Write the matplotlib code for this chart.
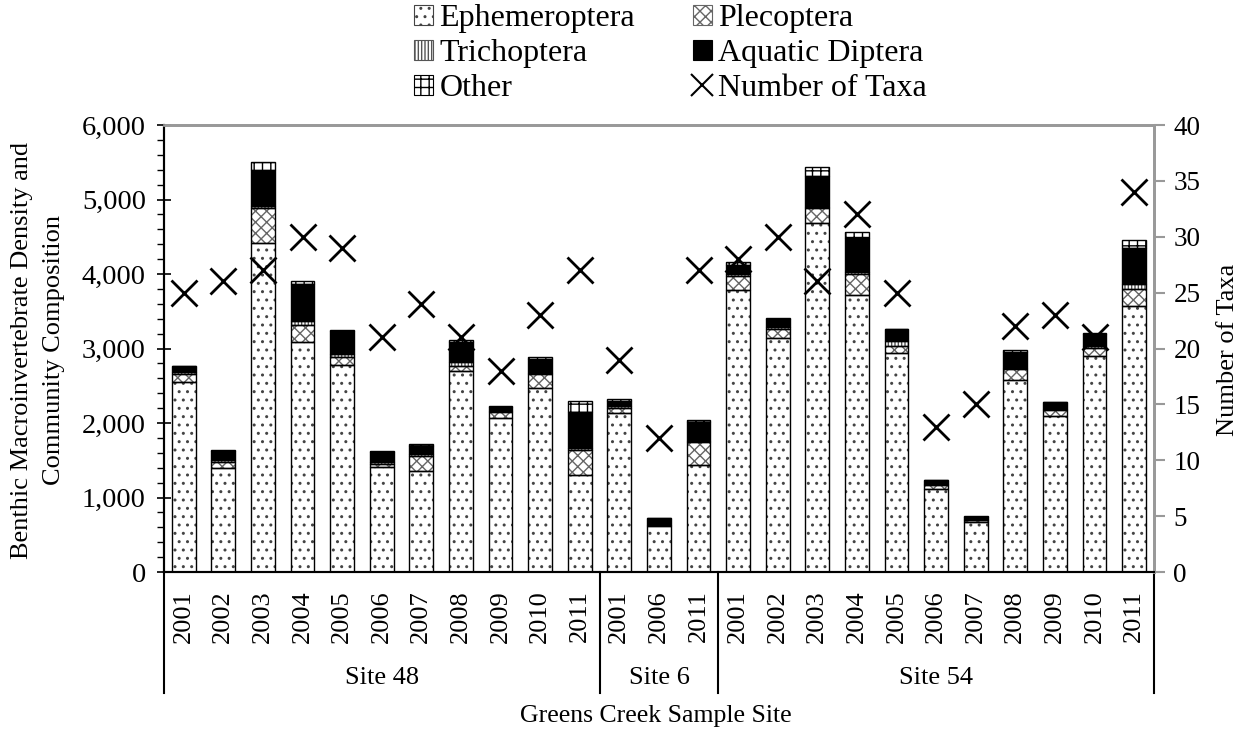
import matplotlib
matplotlib.use("Agg")
import matplotlib.pyplot as plt
import matplotlib.patches as mpatches
from matplotlib.lines import Line2D
from matplotlib.ticker import MultipleLocator, FuncFormatter
import numpy as np

plt.rcParams['font.family'] = ['Liberation Serif', 'DejaVu Serif']
plt.rcParams['hatch.linewidth'] = 1.0

# data
years = ['2001', '2002', '2003', '2004', '2005', '2006', '2007', '2008', '2009', '2010', '2011',
         '2001', '2006', '2011',
         '2001', '2002', '2003', '2004', '2005', '2006', '2007', '2008', '2009', '2010', '2011']
sites = ['Site 48', 'Site 6', 'Site 54']
site_sizes = [11, 3, 11]

ephemeroptera = [2550, 1395, 4410, 3085, 2785, 1415, 1360, 2695, 2065, 2470, 1305,
                 2135, 615, 1440,
                 3785, 3145, 4680, 3720, 2940, 1110, 665, 2575, 2090, 2905, 3570]
plecoptera = [110, 85, 470, 230, 105, 40, 200, 75, 85, 190, 335,
              65, 15, 300,
              190, 120, 200, 280, 100, 60, 40, 150, 85, 105, 225]
trichoptera = [20, 20, 30, 50, 40, 25, 20, 50, 15, 15, 25,
               25, 5, 20,
               25, 20, 20, 30, 60, 15, 10, 15, 15, 20, 65]
diptera = [80, 120, 490, 495, 310, 135, 115, 265, 55, 190, 480,
           75, 85, 260,
           120, 105, 420, 460, 160, 50, 30, 215, 90, 170, 495]
other = [10, 20, 110, 45, 5, 5, 20, 25, 5, 25, 155,
         25, 5, 25,
         35, 25, 110, 80, 5, 5, 5, 20, 5, 10, 100]
num_taxa = [25, 26, 27, 30, 29, 21, 24, 21, 18, 23, 27,
            19, 12, 27,
            28, 30, 26, 32, 25, 13, 15, 22, 23, 21, 34]

groups = [
    ('Ephemeroptera', ephemeroptera, 'white', '#444444', '..'),
    ('Plecoptera', plecoptera, 'white', '#666666', 'xxx'),
    ('Trichoptera', trichoptera, 'white', '#555555', '|||||'),
    ('Aquatic Diptera', diptera, 'black', 'black', None),
    ('Other', other, 'white', 'black', '++'),
]

fig = plt.figure(figsize=(12.46, 7.38), dpi=100)
ax = fig.add_axes([0.1316, 0.2249, 0.7945, 0.6057])
ax2 = ax.twinx()

x = np.arange(len(years))
bottom = np.zeros(len(years))
handles = {}
for name, vals, fc, hc, hatch in groups:
    vals = np.array(vals, dtype=float)
    # hatch layer in grey, then black outline on top
    ax.bar(x, vals, 0.6, bottom=bottom, color=fc, edgecolor=hc, hatch=hatch, linewidth=0, zorder=2)
    ax.bar(x, vals, 0.6, bottom=bottom, fill=False, edgecolor='black', linewidth=1.0, zorder=3)
    handles[name] = mpatches.Patch(facecolor=fc, edgecolor=hc if hatch else 'black',
                                   hatch=hatch, linewidth=0.8)
    bottom += vals

ax2.plot(x, num_taxa, linestyle='none', marker='x', markersize=19, markeredgewidth=2,
         color='black', zorder=5)

ax.set_xlim(-0.5, len(years) - 0.5)
ax.set_ylim(0, 6000)
ax2.set_ylim(0, 40)

ax.yaxis.set_major_locator(MultipleLocator(1000))
ax.yaxis.set_minor_locator(MultipleLocator(200))
ax.yaxis.set_major_formatter(FuncFormatter(lambda v, p: f'{int(v):,}'))
ax.tick_params(axis='y', which='major', direction='inout', length=10, width=1.2,
               labelsize=20.5, pad=8)
ax.tick_params(axis='y', which='minor', direction='out', length=5, width=1.0)
ax2.yaxis.set_major_locator(MultipleLocator(5))
ax2.tick_params(axis='y', direction='out', length=8, width=1.5, color='#999999',
                labelsize=19.5, pad=6)

ax.set_xticks(x)
ax.set_xticklabels(years, rotation=90, fontsize=19)
ax.tick_params(axis='x', length=0, pad=13)

for a in (ax, ax2):
    a.spines['top'].set_color('#999999')
    a.spines['top'].set_linewidth(2)
    a.spines['right'].set_color('#999999')
    a.spines['right'].set_linewidth(2)
    a.spines['left'].set_color('black')
    a.spines['left'].set_linewidth(1.5)
    a.spines['bottom'].set_color('black')
    a.spines['bottom'].set_linewidth(1.5)

# site group separators and labels under the axis
trans = ax.get_xaxis_transform()
edges = np.concatenate([[0], np.cumsum(site_sizes)]) - 0.5
for e in edges:
    ax.plot([e, e], [0, -0.27], color='black', linewidth=1.5, transform=trans, clip_on=False)
for i, s in enumerate(sites):
    ax.text((edges[i] + edges[i + 1]) / 2, -0.237, s, transform=trans,
            ha='center', va='center', fontsize=19)

fig.text(0.526, 1 - 716 / 738, 'Greens Creek Sample Site', ha='center', va='center', fontsize=18.5)
fig.text(38 / 1246, 1 - 350 / 738, 'Benthic Macroinvertebrate Density and\nCommunity Composition',
         rotation=90, ha='center', va='center', fontsize=19, multialignment='center',
         linespacing=1.6)
fig.text(1228 / 1246, 1 - 350 / 738, 'Number of Taxa', rotation=90, ha='center', va='center',
         fontsize=19)

taxa_handle = Line2D([], [], linestyle='none', marker='x', markersize=16, markeredgewidth=1.5,
                     color='black')
leg_handles = [handles['Ephemeroptera'], handles['Trichoptera'], handles['Other'],
               handles['Plecoptera'], handles['Aquatic Diptera'], taxa_handle]
leg_labels = ['Ephemeroptera', 'Trichoptera', 'Other', 'Plecoptera', 'Aquatic Diptera',
              'Number of Taxa']
fig.legend(leg_handles, leg_labels, ncol=2, loc='upper center', bbox_to_anchor=(0.538, 1.02),
           frameon=False, fontsize=23, handlelength=0.6, handleheight=0.6, handletextpad=0.2,
           columnspacing=1.8, labelspacing=0.18, borderaxespad=0.2)

fig.savefig('out.png', dpi=100)
